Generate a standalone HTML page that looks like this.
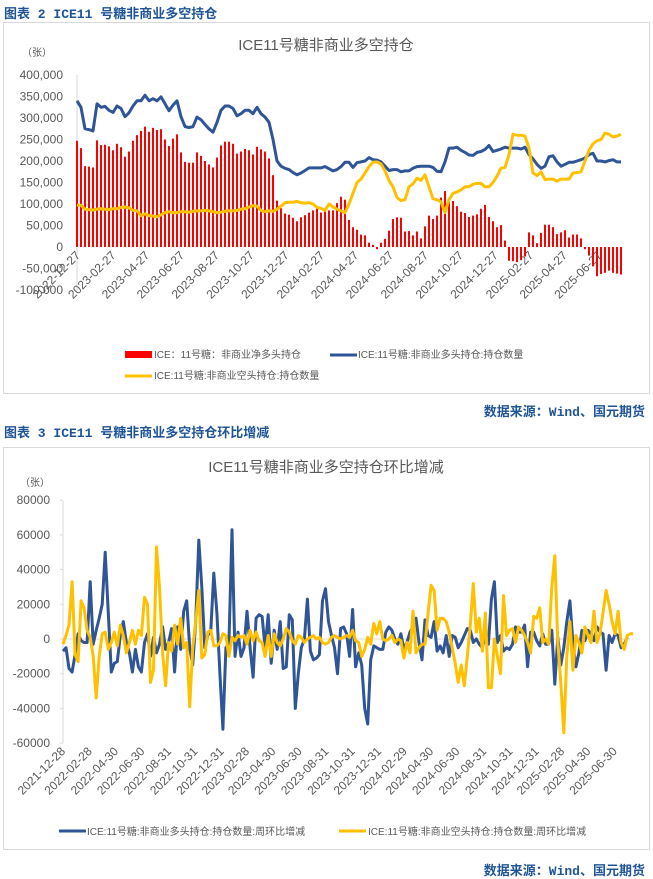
<!DOCTYPE html>
<html><head><meta charset="utf-8">
<style>
body{margin:0;width:653px;height:878px;background:#fff;position:relative;overflow:hidden;font-family:"Liberation Sans","Noto Sans CJK SC",sans-serif;}
.hdr{position:absolute;left:4px;font-size:13px;font-weight:bold;color:#1f5597;font-family:"Liberation Mono","Noto Sans CJK SC",monospace;}
.src{position:absolute;right:8px;font-size:13px;font-weight:bold;color:#1f5597;font-family:"Liberation Mono","Noto Sans CJK SC",monospace;}
.box{position:absolute;left:3px;width:645px;border:1px solid #d9d9d9;}
svg{position:absolute;left:0;top:0}
</style></head><body>
<div class="hdr" style="top:3px">图表 2 ICE11 号糖非商业多空持仓</div>
<div class="box" style="top:22px;height:370px"></div>
<div class="src" style="top:401px">数据来源：Wind、国元期货</div>
<div class="hdr" style="top:422px">图表 3 ICE11 号糖非商业多空持仓环比增减</div>
<div class="box" style="top:447px;height:401px"></div>
<div class="src" style="top:860px">数据来源：Wind、国元期货</div>
<svg id="s" width="653" height="878"></svg>
<script>
// ---- Chart 1 data (weekly from 2022-12-27) ----
const c1Start = "2022-12-27";
const c1Ticks = ["2022-12-27","2023-02-27","2023-04-27","2023-06-27","2023-08-27","2023-10-27","2023-12-27","2024-02-27","2024-04-27","2024-06-27","2024-08-27","2024-10-27","2024-12-27","2025-02-27","2025-04-27","2025-06-27"];
const c1YTicks = [400000,350000,300000,250000,200000,150000,100000,50000,0,-50000,-100000];
const c1YLabels = ["400,000","350,000","300,000","250,000","200,000","150,000","100,000","50,000","0","-50,000","-100,000"];
const netLong = [247,230,188,187,185,248,237,238,234,225,240,232,210,222,247,260,270,280,268,277,272,274,250,235,252,262,220,198,196,196,220,212,200,192,185,208,236,245,245,240,217,222,228,225,215,233,227,222,206,167,108,90,78,75,68,60,69,74,80,85,95,80,85,85,85,102,117,110,63,46,40,29,27,10,5,-5,10,19,38,65,69,68,36,37,27,36,20,48,73,65,73,115,130,105,107,95,82,79,70,73,76,89,98,70,60,46,51,15,-32,-33,-35,-30,-22,34,27,9,33,52,52,46,30,34,39,22,29,29,20,-5,-20,-45,-68,-63,-60,-55,-60,-62,-64];
const longPos = [340,325,275,273,270,333,325,327,318,313,328,322,303,312,328,340,340,353,340,345,340,349,333,317,330,340,303,280,278,280,302,296,285,275,267,290,318,328,328,322,305,310,318,318,310,325,310,302,290,250,200,188,183,180,173,168,172,178,184,184,184,184,187,182,177,180,187,197,197,185,196,198,200,208,203,202,198,188,178,180,180,175,177,177,183,187,188,188,188,185,176,175,198,230,230,232,225,220,214,213,220,222,227,236,222,225,228,232,230,230,230,228,232,215,205,192,183,188,210,212,198,188,192,197,197,200,203,207,215,218,200,200,198,201,203,198,198];
const shortPos = [97,97,88,87,86,88,89,88,87,89,89,92,93,91,85,84,73,77,73,72,70,75,80,82,80,80,82,82,81,83,84,84,85,84,82,80,81,83,84,84,85,88,89,93,96,95,85,82,84,83,88,95,103,104,104,106,103,102,103,100,92,90,85,100,93,88,84,80,100,125,150,158,172,187,197,198,193,177,155,140,115,108,110,140,147,160,155,168,140,112,110,105,80,110,125,128,133,140,140,146,148,148,140,140,150,165,183,185,215,262,260,260,258,230,172,166,175,157,158,158,153,158,158,158,172,173,175,200,225,240,247,250,265,262,256,258,262];
// ---- Chart 2 data (weekly from 2021-12-28, thousands of contracts) ----
const c2Start = "2021-12-28";
const c2Ticks = ["2021-12-28","2022-02-28","2022-04-30","2022-06-30","2022-08-31","2022-10-31","2022-12-31","2023-02-28","2023-04-30","2023-06-30","2023-08-31","2023-10-31","2023-12-31","2024-02-29","2024-04-30","2024-06-30","2024-08-31","2024-10-31","2024-12-31","2025-02-28","2025-04-30","2025-06-30"];
const c2YTicks = [80000,60000,40000,20000,0,-20000,-40000,-60000];
const longChg = [-7,-5,-17,-19,-9,3,-1,-2,-2,33,-3,5,12,20,50,15,-19,-14,-13,2,10,-2,-8,-19,-6,-16,-19,-2,3,-10,1,-8,-3,7,-6,-2,6,-19,7,-6,16,22,-5,-15,10,57,30,-5,2,5,38,15,-20,-52,-5,-3,63,-10,4,-10,-5,16,-5,-22,12,14,13,-5,14,-14,5,-6,10,-17,-16,14,11,-40,-20,-5,0,23,-7,-12,-11,-9,22,29,10,2,-5,-20,6,7,3,-10,17,-16,-8,-15,-40,-49,-12,-4,-5,-6,-6,4,7,5,0,-3,3,-6,-2,4,7,12,-2,-12,11,2,1,10,-7,-4,-8,2,-10,2,1,-5,-2,2,6,5,-2,0,-3,-5,2,-3,23,33,-2,2,-7,-5,-6,-3,7,4,4,8,-16,4,4,-1,-4,3,-3,-3,5,-26,1,-15,-5,10,22,-2,-16,-8,5,-1,5,3,-1,7,4,3,-18,2,-2,3,2,-5,-3,1];
const shortChg = [-3,2,8,33,-9,-13,22,18,5,1,-10,-34,-10,3,4,-6,-2,4,-4,8,2,-8,-2,5,-3,5,2,24,20,-25,-18,53,30,-8,-27,-2,-7,8,-3,12,-5,-2,-39,-5,10,28,-11,-9,4,5,-4,-4,-2,3,2,-10,1,-1,2,1,2,-3,5,-1,4,-1,-2,-10,2,-10,3,-2,-4,0,6,4,-1,-3,2,1,-2,0,1,2,0,1,-2,-3,-2,1,2,1,0,1,2,1,5,-1,-2,-10,-6,1,-3,9,3,10,0,-1,0,2,-2,0,-1,-11,-2,-8,16,-8,-5,-3,-3,15,31,28,5,12,12,10,4,-5,-14,-25,-15,-27,-10,8,32,4,12,-7,15,-28,-28,0,-10,-20,25,2,5,6,-2,7,5,2,-2,-8,13,12,18,-2,0,-3,30,48,-2,-25,-54,-10,10,-18,2,-2,-8,7,2,-2,16,-2,3,15,28,20,10,3,16,-2,-6,2,3,3];

const NS="http://www.w3.org/2000/svg";
const svg=document.getElementById('s');
function mk(tag,attrs,parent){const e=document.createElementNS(NS,tag);for(const k in attrs)e.setAttribute(k,attrs[k]);(parent||svg).appendChild(e);return e;}
function days(a,b){return (Date.parse(b)-Date.parse(a))/86400000;}
function txt(x,y,s,attrs){const t=mk('text',Object.assign({x:x,y:y,'font-size':12,fill:'#595959','font-family':'"Liberation Sans","Noto Sans CJK SC",sans-serif'},attrs||{}));t.textContent=s;return t;}

// ===== Chart 1 =====
const x1=d=>77+days(c1Start,d)*4/7;
const xi1=i=>77+i*4;
const y1=v=>247-v*(172/400000);
let t=txt(326,50,'ICE11号糖非商业多空持仓',{'font-size':15,'text-anchor':'middle'});


t=txt(22,56,'（张）',{'font-size':10});


let ax=mk('line',{x1:77,y1:75,x2:77,y2:291,stroke:'#d9d9d9','stroke-width':1});


c1YTicks.forEach((v,i)=>{const e=txt(63,y1(v)+4,c1YLabels[i],{'text-anchor':'end'});

});
c1Ticks.forEach(d=>{const x=x1(d);const e=txt(x+4,256,d,{'text-anchor':'end',transform:`rotate(-45 ${x+4} 256)`});

});
netLong.forEach((v,i)=>{const val=v*1000;const yy=Math.min(y1(val),y1(0));const h=Math.abs(y1(val)-y1(0));
const b=mk('rect',{x:xi1(i)-1,y:yy,width:2,height:Math.max(h,0.5),fill:'#ff0000'});

});
function line(arr,xf,yf,scale,color,name){const p=arr.map((v,i)=>`${xf(i).toFixed(1)},${yf(v*scale).toFixed(1)}`).join(' ');
const l=mk('polyline',{points:p,fill:'none',stroke:color,'stroke-width':3,'stroke-linejoin':'round'});

}
line(longPos,xi1,y1,1000,'#2f5597','long-positions-line');
line(shortPos,xi1,y1,1000,'#ffc000','short-positions-line');
// legend 1
let lg=mk('rect',{x:125,y:351,width:27,height:7,fill:'#ff0000'});


t=txt(154,358,'ICE：11号糖：非商业净多头持仓',{'font-size':10});


lg=mk('line',{x1:330,y1:355,x2:357,y2:355,stroke:'#2f5597','stroke-width':3});


t=txt(358,358,'ICE:11号糖:非商业多头持仓:持仓数量',{'font-size':10});


lg=mk('line',{x1:125,y1:376,x2:152,y2:376,stroke:'#ffc000','stroke-width':3});


t=txt(154,379,'ICE:11号糖:非商业空头持仓:持仓数量',{'font-size':10});



// ===== Chart 2 =====
const x2=d=>63+days(c2Start,d)*0.431;
const xi2=i=>63+i*3.017;
const y2=v=>639-v*(34.7/20000);
t=txt(326,472,'ICE11号糖非商业多空持仓环比增减',{'font-size':15,'text-anchor':'middle'});


t=txt(20,486,'（张）',{'font-size':10});


ax=mk('line',{x1:63,y1:501,x2:63,y2:743,stroke:'#d9d9d9','stroke-width':1});


ax=mk('line',{x1:63,y1:y2(0),x2:630,y2:y2(0),stroke:'#d9d9d9','stroke-width':1});


c2YTicks.forEach(v=>{const e=txt(50,y2(v)+4,String(v),{'text-anchor':'end'});


mk('line',{x1:60,y1:y2(v),x2:63,y2:y2(v),stroke:'#d9d9d9'});});
c2Ticks.forEach(d=>{const x=x2(d);const e=txt(x+3,752,d,{'text-anchor':'end',transform:`rotate(-45 ${x+3} 752)`});

});
line(longChg,xi2,y2,1000,'#2f5597','long-change-line');
line(shortChg,xi2,y2,1000,'#ffc000','short-change-line');
lg=mk('line',{x1:59,y1:831,x2:86,y2:831,stroke:'#2f5597','stroke-width':3});


t=txt(87,835,'ICE:11号糖:非商业多头持仓:持仓数量:周环比增减',{'font-size':10});


lg=mk('line',{x1:339,y1:831,x2:366,y2:831,stroke:'#ffc000','stroke-width':3});


t=txt(368,835,'ICE:11号糖:非商业空头持仓:持仓数量:周环比增减',{'font-size':10});


</script>
</body></html>
